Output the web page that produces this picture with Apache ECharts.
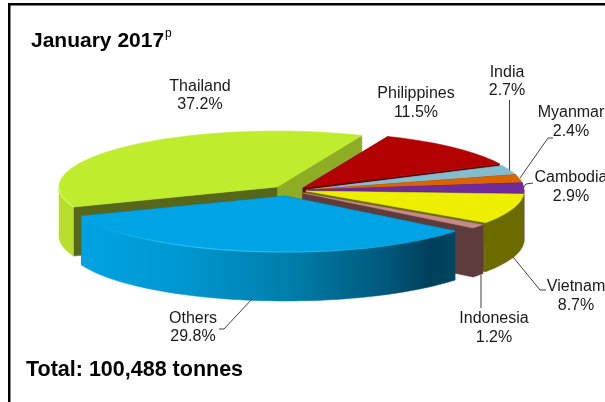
<!DOCTYPE html>
<html>
<head>
<meta charset="utf-8">
<style>html,body{margin:0;padding:0;background:#fff}#c{width:605px;height:402px}</style>
<script src="https://cdn.jsdelivr.net/npm/echarts@6/dist/echarts.min.js"></script>
</head>
<body>
<div id="c"></div>
<script>
// Labelled shares
const categories = ['Thailand','Philippines','India','Myanmar','Cambodia','Vietnam','Indonesia','Others'];
const labelShares = [37.2,11.5,2.7,2.4,2.9,8.7,1.2,29.8];
// The labels add up to 96.4%, yet the wedges fill the circle: the Others wedge is drawn wider than its label.
const unlabelledShares = [0,0,0,0,0,0,0,3.6];

// Styling and layout only
const startAngle = 159, RX = 218, RY = 56, DEPTH = 49;
const apexes = [[277,187],[303,188],[306,190],[306,190],[306,190],[306,191],[303,193],[285,196]];
const topColors = ['#bfed2e','#b30000','#85bccf','#d96400','#702a9c','#eeee00','#c48b88','#00a3e3'];
const wallColors = ['#b6de2b','#7a0000','#5f8f9f','#9a4700','#4e1c70','#6b6b00','#5e3c3c',null];
const startCut = ['#56661a','#5c0000','#5f8f9f','#9a4700','#4e1c70','#6b6b00','#5e3c3c','#00608a'];
const endCut = ['#8fac25','#5c0000','#5f8f9f','#9a4700','#4e1c70','#6b6b00','#5e3c3c','#00608a'];
const labelPos = [[200,87,105],[416,94,113],[507,73,91],[571,113,132],[571,178,197],[576,287,306],[494,319,338],[193,319,337]];
const leaders = [null,null,[[509.5,170],[509.5,100]],[[520,178],[548,138],[553,138]],[[523,188],[526,184],[533,183]],
  [[513,257],[540,290],[546,290]],[[481,275],[481,308]],[[252,299],[224,329],[219,329]]];

const total = labelShares.reduce((a,b,i)=>a+b+unlabelledShares[i],0);
const spans = labelShares.map((v,i)=>(v+unlabelledShares[i])/total*360);
const starts = spans.map((_,i)=>startAngle+spans.slice(0,i).reduce((a,b)=>a+b,0));
const rad = d=>d*Math.PI/180;

function rim(i,a0,a1,dy){
  const pts=[], n=Math.max(2,Math.ceil(Math.abs(a1-a0)/2));
  for(let k=0;k<=n;k++){
    const a=rad(a0+(a1-a0)*k/n);
    pts.push([apexes[i][0]+RX*Math.cos(a),apexes[i][1]+RY*Math.sin(a)+(dy||0)]);
  }
  return pts;
}
const othersWall = new echarts.graphic.LinearGradient(82,0,457,0,[
  {offset:0,color:'#00a3e2'},{offset:0.25,color:'#0098d3'},{offset:0.55,color:'#007eab'},
  {offset:0.8,color:'#005a7d'},{offset:0.93,color:'#003f5a'},{offset:1,color:'#004763'}],true);
const othersRim = new echarts.graphic.LinearGradient(82,0,457,0,[
  {offset:0,color:'#00a3e3'},{offset:0.3,color:'#25c3f5'},{offset:0.6,color:'#18b4ea'},{offset:1,color:'#0098d0'}],true);

function renderItem(params){
  const i=params.dataIndex, a0=starts[i], a1=a0+spans[i], ap=apexes[i], kids=[], rims=[];
  const poly=(points,fill)=>kids.push({type:'polygon',shape:{points},style:{fill,stroke:fill,lineWidth:0.5},silent:true});
  const face=(angle,fill)=>{
    const p=rim(i,angle,angle,0)[0];
    poly([ap,p,[p[0],p[1]+DEPTH],[ap[0],ap[1]+DEPTH]],fill);
  };
  face(a1,endCut[i]);
  face(a0,startCut[i]);
  // outer wall: only the part of the rim facing the viewer
  [[0,180],[360,540]].forEach(([lo,hi])=>{
    const s=Math.max(a0,lo), e=Math.min(a1,hi);
    if(e>s){
      const t=rim(i,s,e,0), b=rim(i,s,e,DEPTH).reverse();
      poly(t.concat(b), wallColors[i]||othersWall);
      if(i===0||i===7) rims.push({type:'polyline',shape:{points:t},style:{fill:'none',stroke:i===7?othersRim:'#d6f76a',lineWidth:1.2},silent:true});
    }
  });
  poly([ap].concat(rim(i,a0,a1,0)),topColors[i]);
  return {type:'group',children:kids.concat(rims)};
}

const font='16px "Liberation Sans", Arial, sans-serif';
const txt=(text,x,y,f,align)=>({type:'text',silent:true,z:10,style:{text,x,y,font:f||font,fill:f?'#000':'#1a1a1a',textAlign:align||'center',textVerticalAlign:'middle'}});
const graphics=[
  {type:'rect',silent:true,z:9,shape:{x:8,y:3,width:2.5,height:399},style:{fill:'#000'}},
  {type:'rect',silent:true,z:9,shape:{x:8,y:3,width:597,height:2.5},style:{fill:'#000'}},
  txt('January 2017',31,41,'bold 21px "Liberation Sans", Arial, sans-serif','left'),
  txt('p',165,34,'12px "Liberation Sans", Arial, sans-serif','left'),
  txt('Total: 100,488 tonnes',26,370,'bold 21.5px "Liberation Sans", Arial, sans-serif','left')
];
categories.forEach((c,i)=>{
  graphics.push(txt(c,labelPos[i][0],labelPos[i][1]));
  graphics.push(txt(labelShares[i].toFixed(1)+'%',labelPos[i][0],labelPos[i][2]));
  if(leaders[i]) graphics.push({type:'polyline',silent:true,z:8,shape:{points:leaders[i]},style:{fill:'none',stroke:'#404040',lineWidth:1}});
});

const chart=echarts.init(document.getElementById('c'),null,{renderer:'canvas'});
chart.setOption({
  animation:false,
  backgroundColor:'#fff',
  graphic:graphics,
  series:[{type:'custom',coordinateSystem:'none',renderItem,data:categories.map((c,i)=>({name:c,value:labelShares[i]})),silent:true}]
});
</script>
</body>
</html>
